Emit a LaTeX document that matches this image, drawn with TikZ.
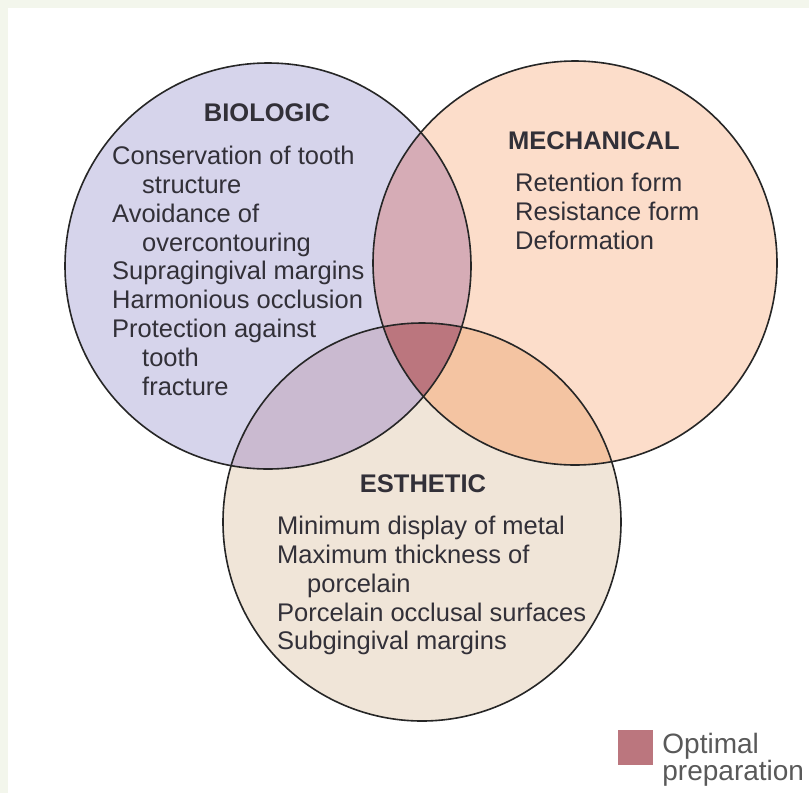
\documentclass[tikz,border=0pt]{standalone}
\usepackage{fontspec}
\setmainfont{Liberation Sans}
\usepackage{xcolor}
\usetikzlibrary{positioning}

\definecolor{biofill}{RGB}{214,212,235}
\definecolor{mechfill}{RGB}{252,221,202}
\definecolor{estfill}{RGB}{240,229,216}
\definecolor{biomech}{RGB}{214,172,182}
\definecolor{bioest}{RGB}{202,186,208}
\definecolor{mechest}{RGB}{244,196,162}
\definecolor{optimal}{RGB}{187,118,126}
\definecolor{inktext}{RGB}{50,48,56}
\definecolor{paperedge}{RGB}{243,246,236}

\begin{document}
\begin{tikzpicture} [x = 1pt, y = -1pt, inktext, font = \fontsize{25.5}{28.8}\selectfont,
			outline/.style = {line width = 1.6pt, draw = black!85},
			title/.style = {font = \fontsize{25.5}{28.8}\selectfont\bfseries, inner sep = 0pt},
			list/.style = {align = left, inner sep = 0pt, anchor = north west}]
			% Page with thin tinted edge
			\useasboundingbox (0,0) rectangle (809,793);
			\fill [paperedge] (0,0) rectangle (809,793);
			\fill [white] (8,8) rectangle (809,793);
			% Circle centres
			\coordinate (bio) at (268,266);
			\coordinate (mech) at (575,263);
			\coordinate (est) at (422,522);

			% Plain fills
			\fill [biofill] (bio) circle (203pt);
			\fill [mechfill] (mech) circle (202pt);
			\fill [estfill] (est) circle (199pt);
			% Overlaps
			\begin{scope}
				\clip (bio) circle (203pt);
				\fill [biomech] (mech) circle (202pt);
				\fill [bioest] (est) circle (199pt);
			\end{scope}
			\begin{scope}
				\clip (mech) circle (202pt);
				\fill [mechest] (est) circle (199pt);
				\clip (bio) circle (203pt);
				\fill [optimal] (est) circle (199pt);
			\end{scope}
			% Outlines
			\draw [outline] (bio) circle (203pt);
			\draw [outline] (mech) circle (202pt);
			\draw [outline] (est) circle (199pt);

			% Titles
			\node (biotitle) [title, anchor = base] at (267,121) {BIOLOGIC};
			\node (mechtitle) [title, anchor = base west] at (508,149) {MECHANICAL};
			\node (esttitle) [title, anchor = base] at (423,492) {ESTHETIC};

			% Lists
			\node (biolist) [list] at (112,146) {Conservation of tooth\\
				\hspace*{30pt}structure\\
				Avoidance of\\
				\hspace*{30pt}overcontouring\\
				Supragingival margins\\
				Harmonious occlusion\\
				Protection against\\
				\hspace*{30pt}tooth\\
				\hspace*{30pt}fracture};
			\node (mechlist) [list] at (515,173) {Retention form\\
				Resistance form\\
				Deformation};
			\node (estlist) [list] at (277,516) {Minimum display of metal\\
				Maximum thickness of\\
				\hspace*{30pt}porcelain\\
				Porcelain occlusal surfaces\\
				Subgingival margins};

			% Legend
			\node (optbox) [fill = optimal, minimum size = 35pt, inner sep = 0pt] at (635.5,747.5) {};
			\node (optlabel) [list, right = 9pt of optbox.north east, anchor = north west, yshift = -3pt,
			font = \fontsize{28}{27}\selectfont, text = black!65] {Optimal\\preparation};
		\end{tikzpicture}
\end{document}
